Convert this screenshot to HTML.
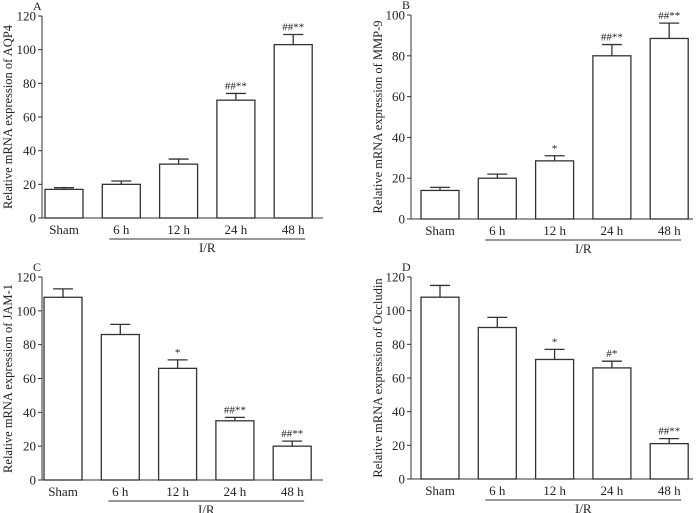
<!DOCTYPE html>
<html><head><meta charset="utf-8"><style>
html,body{margin:0;padding:0;background:#fff}
svg{display:block}
text{font-family:"Liberation Serif",serif;fill:#222}
</style></head><body>
<svg id="fig" width="700" height="513" viewBox="0 0 700 513" xmlns="http://www.w3.org/2000/svg"></svg>
<script>
const categories = ["Sham","6 h","12 h","24 h","48 h"];
const valuesA = [17,20,32,70,103];
const errorsA = [18,22,35,74,109];
const marksA = ["","","","##**","##**"];
const valuesB = [14,20,28.5,80,88.5];
const errorsB = [15.5,22,31,85.5,96];
const marksB = ["","","*","##**","##**"];
const valuesC = [108,86,66,35,20];
const errorsC = [113,92,71,37,23];
const marksC = ["","","*","##**","##**"];
const valuesD = [108,90,71,66,21];
const errorsD = [115,96,77,70,24];
const marksD = ["","","*","#*","##**"];
const ticksA = [0,20,40,60,80,100,120];
const ticksB = [0,20,40,60,80,100];
const ticksC = [0,20,40,60,80,100,120];
const ticksD = [0,20,40,60,80,100,120];

const NS="http://www.w3.org/2000/svg";
const svg=document.getElementById('fig');
function mk(tag,attrs,parent,txt){const e=document.createElementNS(NS,tag);for(const k in attrs)e.setAttribute(k,attrs[k]);if(txt!==undefined)e.textContent=txt;parent.appendChild(e);return e;}

function panel(p){
  const g=mk('g',{},svg);
  
  
  const ymax=p.ticks[p.ticks.length-1];
  const y=v=>p.y0-(v/ymax)*(p.y0-p.ytop);
  const xBar=i=>p.firstBar+i*57.3;
  const bw=38;
  const lt=mk('text',{x:p.ax-9,y:p.ytop-6,'font-size':12},g,p.id);
  
  
  const ya=mk('line',{x1:p.ax,y1:p.ytop,x2:p.ax,y2:p.y0,stroke:'#333','stroke-width':1},g);
  
  
  const xa=mk('line',{x1:p.ax,y1:p.y0,x2:p.xend,y2:p.y0,stroke:'#333','stroke-width':1},g);
  
  
  p.ticks.forEach(t=>{
    const tk=mk('line',{x1:p.ax-4,y1:y(t),x2:p.ax,y2:y(t),stroke:'#333'},g);
    
    
    const tl=mk('text',{x:p.ax-6,y:y(t)+4.5,'font-size':13,'text-anchor':'end'},g,String(t));
    
    
  });
  const cy=(p.ytop+p.y0)/2;
  const yt=mk('text',{x:p.titleX,y:cy,'font-size':12.5,'text-anchor':'middle',transform:`rotate(-90 ${p.titleX} ${cy})`},g,p.title);
  
  
  p.values.forEach((v,i)=>{
    const x=xBar(i), cx=x+bw/2;
    const r=mk('rect',{x:x,y:y(v),width:bw,height:p.y0-y(v),fill:'#fff',stroke:'#333','stroke-width':1.3},g);
    
    
    const e=mk('path',{d:`M${cx},${y(v)}V${y(p.errors[i])}M${cx-10},${y(p.errors[i])}H${cx+10}`,stroke:'#333','stroke-width':1.3,fill:'none'},g);
    
    
    if(p.marks[i]){
      const m=mk('text',{x:cx,y:y(p.errors[i])-4,'font-size':11,'text-anchor':'middle'},g,p.marks[i]);
      
      
    }
    const c=mk('text',{x:cx,y:p.y0+16,'font-size':13,'text-anchor':'middle'},g,categories[i]);
    
    
  });
  const ux1=xBar(1)+bw/2-12, ux2=xBar(4)+bw/2+12;
  const ul=mk('line',{x1:ux1,y1:p.y0+21,x2:ux2,y2:p.y0+21,stroke:'#333'},g);
  
  
  const ir=mk('text',{x:(ux1+ux2)/2,y:p.y0+34,'font-size':13,'text-anchor':'middle'},g,'I/R');
  
  
}
panel({id:'A',ax:42,xend:323,y0:218,ytop:16,firstBar:45,titleX:12,ticks:ticksA,values:valuesA,errors:errorsA,marks:marksA,title:'Relative mRNA expression of AQP4'});
panel({id:'B',ax:411,xend:693,y0:219,ytop:15,firstBar:421,titleX:382,ticks:ticksB,values:valuesB,errors:errorsB,marks:marksB,title:'Relative mRNA expression of MMP-9'});
panel({id:'C',ax:42,xend:323,y0:480,ytop:277,firstBar:44,titleX:12,ticks:ticksC,values:valuesC,errors:errorsC,marks:marksC,title:'Relative mRNA expression of JAM-1'});
panel({id:'D',ax:411,xend:693,y0:479,ytop:277,firstBar:421,titleX:382,ticks:ticksD,values:valuesD,errors:errorsD,marks:marksD,title:'Relative mRNA expression of Occludin'});
</script>
</body></html>
